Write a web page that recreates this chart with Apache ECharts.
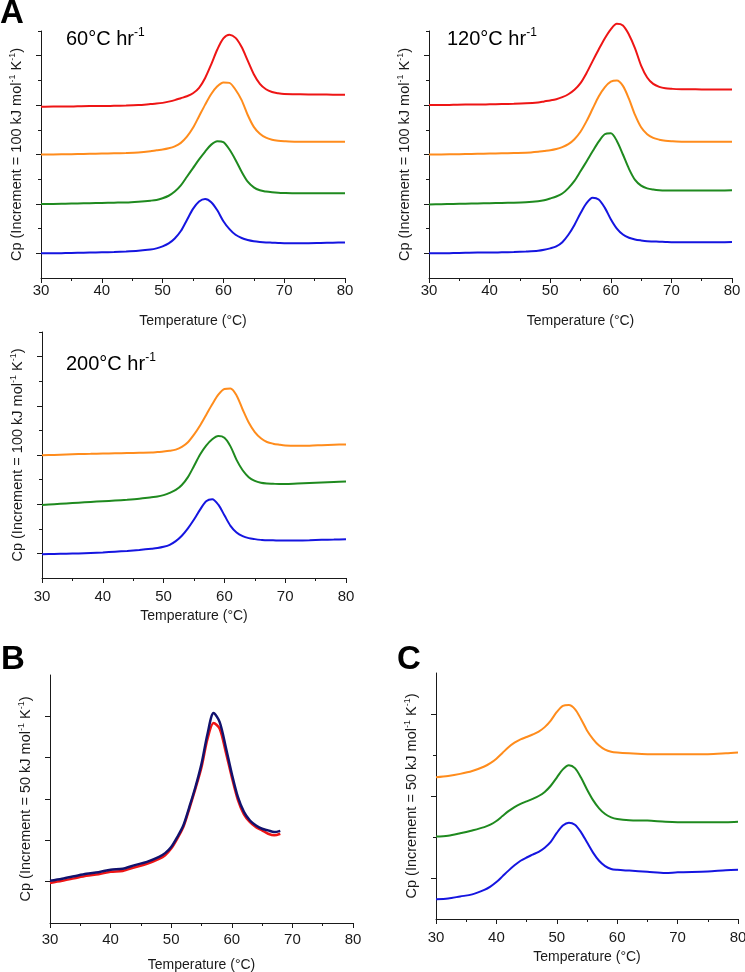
<!DOCTYPE html>
<html>
<head>
<meta charset="utf-8">
<script src="https://cdn.jsdelivr.net/npm/echarts@6/dist/echarts.min.js"></script>
<style>html,body{margin:0;padding:0;background:#fff;}#c{width:745px;height:972px;}</style>
</head>
<body>
<div id="c"></div>
<script>
// ---------- DATA ----------
const tempA = [30,32,34,36,38,40,42,44,46,48,49,50,51,52,53,54,55,56,57,58,59,60,61,62,63,64,65,66,67,68,69,70,72,74,76,78,80];

// Panel A, 60 °C/hr
const a60Blue   = [1.0,1.0,1.01,1.02,1.03,1.04,1.05,1.07,1.1,1.15,1.2,1.28,1.4,1.6,1.9,2.35,2.8,3.1,3.2,3.07,2.74,2.3,1.98,1.75,1.62,1.54,1.49,1.46,1.44,1.43,1.42,1.41,1.41,1.41,1.42,1.43,1.44];
const a60Green  = [3.0,3.0,3.01,3.02,3.03,3.04,3.05,3.06,3.09,3.13,3.16,3.23,3.33,3.5,3.75,4.1,4.45,4.8,5.12,5.4,5.54,5.5,5.2,4.78,4.3,3.9,3.67,3.55,3.5,3.47,3.45,3.44,3.43,3.43,3.43,3.43,3.43];
const a60Orange = [5.0,5.0,5.01,5.02,5.03,5.04,5.05,5.06,5.08,5.13,5.17,5.2,5.25,5.33,5.47,5.72,6.08,6.55,7.02,7.45,7.76,7.92,7.9,7.62,7.2,6.6,6.12,5.84,5.68,5.6,5.56,5.54,5.52,5.52,5.52,5.52,5.52];
const a60Red    = [6.93,6.94,6.94,6.95,6.96,6.96,6.97,6.98,7.0,7.04,7.06,7.09,7.14,7.2,7.28,7.36,7.48,7.7,8.1,8.65,9.25,9.7,9.85,9.72,9.35,8.8,8.25,7.86,7.64,7.53,7.48,7.45,7.44,7.43,7.43,7.42,7.42];

// Panel A, 120 °C/hr
const a120Blue   = [1.0,1.0,1.01,1.02,1.03,1.03,1.04,1.05,1.07,1.1,1.14,1.2,1.28,1.45,1.75,2.15,2.62,3.03,3.25,3.18,2.85,2.38,2.0,1.76,1.63,1.56,1.52,1.49,1.48,1.47,1.46,1.45,1.45,1.45,1.45,1.45,1.46];
const a120Green  = [2.98,2.99,3.0,3.01,3.02,3.03,3.04,3.05,3.07,3.11,3.15,3.22,3.3,3.42,3.64,3.93,4.32,4.72,5.13,5.52,5.82,5.86,5.55,5.0,4.42,3.97,3.74,3.63,3.58,3.55,3.54,3.54,3.54,3.54,3.54,3.54,3.55];
const a120Orange = [5.0,5.0,5.01,5.02,5.03,5.04,5.05,5.06,5.07,5.11,5.14,5.17,5.22,5.3,5.42,5.62,5.92,6.35,6.85,7.35,7.72,7.95,8.0,7.78,7.25,6.6,6.1,5.82,5.67,5.6,5.56,5.54,5.52,5.52,5.52,5.52,5.52];
const a120Red    = [7.0,7.0,7.01,7.02,7.02,7.03,7.04,7.05,7.07,7.11,7.15,7.19,7.24,7.32,7.44,7.62,7.89,8.3,8.78,9.25,9.7,10.07,10.29,10.22,9.85,9.3,8.6,8.12,7.86,7.74,7.68,7.66,7.64,7.64,7.63,7.63,7.63];

// Panel A, 200 °C/hr
const a200Blue   = [0.97,0.98,0.99,1.0,1.02,1.04,1.07,1.1,1.14,1.19,1.22,1.27,1.35,1.5,1.72,2.02,2.38,2.78,3.12,3.2,2.98,2.55,2.12,1.85,1.7,1.62,1.58,1.55,1.53,1.53,1.52,1.52,1.52,1.53,1.55,1.56,1.58];
const a200Green  = [2.97,3.0,3.03,3.06,3.09,3.12,3.15,3.18,3.22,3.28,3.31,3.37,3.46,3.58,3.78,4.1,4.55,5.02,5.38,5.64,5.77,5.7,5.35,4.8,4.38,4.1,3.95,3.87,3.84,3.83,3.82,3.82,3.84,3.86,3.88,3.9,3.92];
const a200Orange = [4.99,5.0,5.02,5.04,5.05,5.06,5.07,5.08,5.09,5.1,5.12,5.14,5.17,5.22,5.33,5.52,5.83,6.2,6.63,7.06,7.45,7.68,7.7,7.42,6.85,6.32,5.93,5.68,5.53,5.46,5.42,5.39,5.38,5.38,5.4,5.42,5.43];

// Panel B
const tempB = [30,32,34,36,38,40,42,44,46,48,49,50,51,52,53,54,55,56,57,58,59,60,61,62,63,64,65,66,67,68];
const bNavy = [1.02,1.07,1.13,1.19,1.23,1.29,1.31,1.4,1.48,1.6,1.69,1.84,2.08,2.36,2.81,3.29,3.85,4.58,5.08,4.86,4.26,3.61,3.05,2.69,2.48,2.36,2.28,2.24,2.2,2.23];
const bRed  = [0.97,1.02,1.08,1.14,1.18,1.24,1.26,1.35,1.43,1.55,1.64,1.8,2.04,2.32,2.77,3.25,3.77,4.46,4.84,4.7,4.14,3.53,2.98,2.63,2.44,2.32,2.24,2.16,2.12,2.16];

// Panel C
const tempC = [30,32,34,36,38,39,40,41,42,43,44,45,46,47,48,49,50,51,52,53,54,55,56,57,58,59,60,62,65,68,70,75,78,80];
const cBlue   = [0.48,0.5,0.55,0.6,0.71,0.79,0.9,1.04,1.18,1.31,1.42,1.5,1.57,1.64,1.74,1.88,2.1,2.28,2.35,2.3,2.12,1.87,1.62,1.42,1.29,1.22,1.2,1.18,1.15,1.12,1.14,1.16,1.19,1.2];
const cGreen  = [2.01,2.03,2.09,2.16,2.24,2.3,2.39,2.51,2.63,2.73,2.81,2.87,2.93,3.0,3.1,3.25,3.45,3.65,3.75,3.68,3.45,3.16,2.9,2.7,2.56,2.48,2.44,2.41,2.4,2.37,2.36,2.36,2.36,2.37];
const cOrange = [3.46,3.49,3.54,3.61,3.72,3.8,3.91,4.05,4.19,4.3,4.38,4.44,4.5,4.57,4.68,4.84,5.05,5.2,5.22,5.12,4.88,4.6,4.39,4.23,4.13,4.08,4.06,4.04,4.02,4.02,4.02,4.02,4.04,4.06];

const xTicks = [30, 80, 10];
const panelTitles = ['60°C hr', '120°C hr', '200°C hr'];
const panelLetters = ['A', 'B', 'C'];
const yNameA = 'Cp (Increment = 100 kJ mol{s|-1} K{s|-1})';
const yNameBC = 'Cp (Increment = 50 kJ mol{s|-1} K{s|-1})';
const xName = 'Temperature (°C)';

// ---------- STYLE ----------
const FONT = "'Liberation Sans', Arial, sans-serif";
const INK = '#1a1a1a';
const COL = {red:'#ee1515', orange:'#ff8c1c', green:'#1f8a1f', blue:'#1515e0', navy:'#12126e'};

const grids = [
  {left:41,  top:31,  width:304, height:247},
  {left:429, top:31,  width:303, height:247},
  {left:42,  top:332, width:304, height:246},
  {left:50,  top:675, width:303, height:248},
  {left:436, top:673, width:302, height:246}
];
const xCfg = [
  {margin:5, gap:36}, {margin:5, gap:36}, {margin:11, gap:31}, {margin:9, gap:35}, {margin:11, gap:31}
];

const xAxes = grids.map((g, i) => ({
  gridIndex: i, type: 'value', min: xTicks[0], max: xTicks[1], interval: xTicks[2],
  axisLine: {onZero: false, lineStyle: {color: INK, width: 1}},
  axisTick: {length: 5, lineStyle: {color: INK}},
  minorTick: {show: true, splitNumber: 2, length: 3, lineStyle: {color: INK}},
  splitLine: {show: false}, minorSplitLine: {show: false},
  axisLabel: {fontSize: 15, color: INK, margin: xCfg[i].margin, fontFamily: FONT},
  name: xName, nameLocation: 'middle', nameGap: xCfg[i].gap,
  nameTextStyle: {fontSize: 14, color: INK, fontFamily: FONT}
}));

const yAxes = [];
const mainY = [];
function addY(gi, max, major, minor, name) {
  mainY[gi] = yAxes.length;
  yAxes.push({
    gridIndex: gi, type: 'value', min: 0, max: max, position: 'left',
    axisLine: {show: true, onZero: false, lineStyle: {color: INK, width: 1}},
    axisTick: {show: true, length: 5, customValues: major, lineStyle: {color: INK}},
    axisLabel: {show: false}, splitLine: {show: false},
    name: name, nameLocation: 'middle', nameGap: 15,
    nameTextStyle: {fontSize: 14.5, color: INK, fontFamily: FONT, lineHeight: 18,
      rich: {s: {fontSize: 9, lineHeight: 9, verticalAlign: 'top', color: INK, fontFamily: FONT}}}
  });
  if (minor && minor.length) {
    yAxes.push({
      gridIndex: gi, type: 'value', min: 0, max: max, position: 'left',
      axisLine: {show: false}, axisLabel: {show: false}, splitLine: {show: false},
      axisTick: {show: true, length: 3, customValues: minor, lineStyle: {color: INK}}
    });
  }
}
addY(0, 10, [1,3,5,7,9], [2,4,6,8,10], yNameA);
addY(1, 10, [1,3,5,7,9], [2,4,6,8,10], yNameA);
addY(2, 10, [1,3,5,7,9], [2,4,6,8,10], yNameA);
addY(3, 6, [1,2,3,4,5], [], yNameBC);
addY(4, 6, [1,3,5], [2,4], yNameBC);

const series = [];
function addLine(gi, xs, ys, color, width) {
  series.push({
    type: 'line', xAxisIndex: gi, yAxisIndex: mainY[gi],
    data: xs.map((t, k) => [t, ys[k]]),
    showSymbol: false, symbol: 'none', smooth: 0.3, clip: false, silent: true,
    lineStyle: {color: color, width: width}
  });
}
addLine(0, tempA, a60Blue, COL.blue, 2);
addLine(0, tempA, a60Green, COL.green, 2);
addLine(0, tempA, a60Orange, COL.orange, 2);
addLine(0, tempA, a60Red, COL.red, 2);
addLine(1, tempA, a120Blue, COL.blue, 2);
addLine(1, tempA, a120Green, COL.green, 2);
addLine(1, tempA, a120Orange, COL.orange, 2);
addLine(1, tempA, a120Red, COL.red, 2);
addLine(2, tempA, a200Blue, COL.blue, 2);
addLine(2, tempA, a200Green, COL.green, 2);
addLine(2, tempA, a200Orange, COL.orange, 2);
addLine(3, tempB, bRed, COL.red, 2.5);
addLine(3, tempB, bNavy, COL.navy, 2.5);
addLine(4, tempC, cBlue, COL.blue, 2);
addLine(4, tempC, cGreen, COL.green, 2);
addLine(4, tempC, cOrange, COL.orange, 2);

const letterStyle = {fontSize: 33, fontWeight: 'bold', color: '#000', fontFamily: FONT};
const subStyle = {fontSize: 20, fontWeight: 'normal', color: '#000', fontFamily: FONT, lineHeight: 24,
  rich: {s: {fontSize: 12, fontWeight: 'normal', lineHeight: 12, verticalAlign: 'top', color: '#000', fontFamily: FONT}}};
const titles = [
  {text: panelLetters[0], left: 0, top: -3, padding: 0, textStyle: letterStyle},
  {text: panelLetters[1], left: 1, top: 643, padding: 0, textStyle: letterStyle},
  {text: panelLetters[2], left: 397, top: 643, padding: 0, textStyle: letterStyle},
  {text: panelTitles[0] + '{s|-1}', left: 66, top: 27, padding: 0, textStyle: subStyle},
  {text: panelTitles[1] + '{s|-1}', left: 447, top: 27, padding: 0, textStyle: subStyle},
  {text: panelTitles[2] + '{s|-1}', left: 66, top: 352, padding: 0, textStyle: subStyle}
];

const chart = echarts.init(document.getElementById('c'), null, {renderer: 'canvas'});
chart.setOption({
  animation: false,
  backgroundColor: '#fff',
  title: titles,
  grid: grids.map(g => Object.assign({containLabel: false, outerBoundsMode: 'none'}, g)),
  xAxis: xAxes,
  yAxis: yAxes,
  series: series
});
</script>
</body>
</html>
